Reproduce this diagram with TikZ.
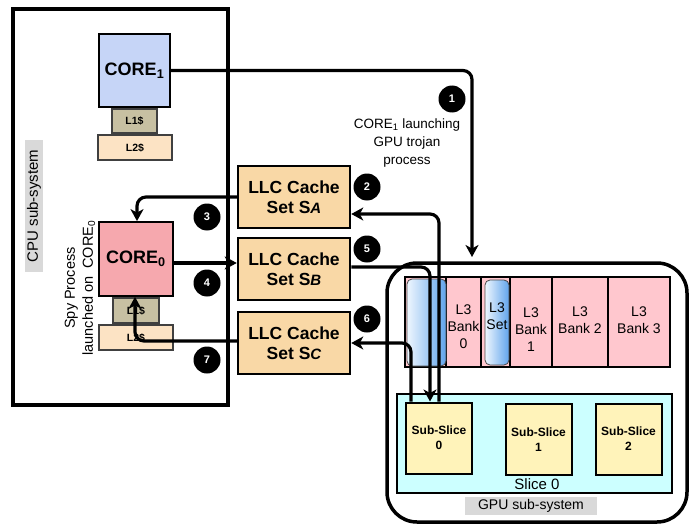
\documentclass[tikz,border=0pt]{standalone}
\usepackage{fontspec}
\setmainfont{Liberation Sans}
\usetikzlibrary{arrows.meta,calc}

\definecolor{coreblue}{RGB}{198,213,247}
\definecolor{corepink}{RGB}{246,168,174}
\definecolor{lonecol}{RGB}{199,192,162}
\definecolor{ltwocol}{RGB}{252,227,196}
\definecolor{llccol}{RGB}{249,216,166}
\definecolor{bankpink}{RGB}{255,199,206}
\definecolor{slicecyan}{RGB}{204,255,255}
\definecolor{subyellow}{RGB}{255,243,186}
\definecolor{labelgray}{RGB}{217,217,217}
\definecolor{setblueL}{RGB}{238,246,254}
\definecolor{setblueR}{RGB}{96,164,236}

\newcommand{\fsz}[2]{\fontsize{#1}{#2}\selectfont}

\begin{document}
\begin{tikzpicture}[x=1pt,y=-1pt,
  corebox/.style={draw, line width=1.8pt, inner sep=0pt, font=\fsz{18}{18}\bfseries},
  cachebox/.style={draw=black!75, line width=1.4pt, inner sep=0pt, font=\fsz{10.5}{10.5}\bfseries},
  llcbox/.style={draw, line width=2.5pt, fill=llccol, minimum width=112, minimum height=62,
    inner sep=0pt, align=center, font=\fsz{17.5}{20}\bfseries},
  sublabel/.style={fill=labelgray, inner sep=0pt},
  badge/.style={circle, fill=black, minimum size=27, inner sep=0pt, text=white,
    font=\fsz{11}{11}\bfseries},
  bankcell/.style={align=center, font=\fsz{14}{17}, inner sep=0pt},
  bluecell/.style={draw=black!70, line width=0.8pt, rounded corners=5,
    left color=setblueL, right color=setblueR},
  subslice/.style={draw, line width=2pt, fill=subyellow, minimum width=66, minimum height=71,
    inner sep=0pt, align=center, font=\fsz{12}{15}\bfseries},
  conn/.style={line width=3.2pt, rounded corners=9, line join=round,
    -{Stealth[length=12pt,width=13pt,inset=3.5pt]}}
]
\useasboundingbox (0,0) rectangle (691,527);

% ---------- CPU side ----------
\node[draw, line width=4pt, minimum width=215, minimum height=396, inner sep=0pt] (cpu) at (120.5,207) {};
\node[sublabel, rotate=90, minimum width=132, minimum height=18, font=\fsz{15}{15}] (cpulbl) at (34,206) {CPU sub-system};

\node[corebox, fill=coreblue, minimum width=71, minimum height=73] (core1) at (134.5,70.5) {CORE\textsubscript{1}};
\node[cachebox, fill=lonecol, minimum width=45, minimum height=24] (l1a) at (134.5,121) {L1\$};
\node[cachebox, fill=ltwocol, minimum width=74, minimum height=25] (l2a) at (135,147.5) {L2\$};

\node[corebox, fill=corepink, minimum width=74, minimum height=74] (core0) at (136,259) {CORE\textsubscript{0}};
\node[cachebox, fill=lonecol, minimum width=46, minimum height=25] (l1b) at (136,310.5) {L1\$};
\node[cachebox, fill=ltwocol, minimum width=74, minimum height=25] (l2b) at (136,337.5) {L2\$};

\node[rotate=90, align=center, font=\fsz{14.5}{18}, inner sep=0pt] (spy) at (80,288)
  {Spy Process\\launched on\hspace{4pt} CORE\textsubscript{0}};

% ---------- LLC sets ----------
\node[llcbox] (llca) at (294,197) {LLC Cache\\Set S{\itshape\fsz{15}{20}A}};
\node[llcbox] (llcb) at (294,269) {LLC Cache\\Set S{\itshape\fsz{15}{20}B}};
\node[llcbox] (llcc) at (294,343) {LLC Cache\\Set S{\itshape\fsz{15}{20}C}};

% ---------- GPU side ----------
\node[draw, line width=3.5pt, rounded corners=30, minimum width=300, minimum height=259, inner sep=0pt] (gpu) at (537,392.5) {};

% L3 strip
\node[draw, line width=2pt, fill=bankpink, minimum width=265, minimum height=90, inner sep=0pt] (l3) at (537.5,322) {};
\foreach \xx in {446,481,510,552,608}
  \draw[line width=1.8pt] (\xx,277) -- (\xx,367);
\filldraw[bluecell] (407,279) rectangle (446,366);
\filldraw[bluecell] (485,280) rectangle (509,365);
\node[bankcell] (bank0) at (463.5,327) {L3\\Bank\\0};
\node[bankcell] (l3set) at (497,316) {L3\\Set};
\node[bankcell] (bank1) at (531,330) {L3\\Bank\\1};
\node[bankcell] (bank2) at (580,320) {L3\\Bank 2};
\node[bankcell] (bank3) at (639,320) {L3\\Bank 3};

% Slice 0
\node[draw, line width=1.6pt, fill=slicecyan, minimum width=275, minimum height=99, inner sep=0pt] (slice) at (534.5,443.5) {};
\node[subslice] (ss0) at (439,438) {Sub-Slice\\0};
\node[subslice] (ss1) at (538.5,439.5) {Sub-Slice\\1};
\node[subslice] (ss2) at (628.5,439) {Sub-Slice\\2};
\node[font=\fsz{15}{15}, inner sep=0pt] (slicelbl) at (537,484) {Slice 0};
\node[sublabel, minimum width=132, minimum height=18, font=\fsz{14}{14}] (gpulbl) at (531,506) {GPU sub-system};

% ---------- Connectors ----------
\coordinate (gputop) at (472,257);
\draw[conn] (core1.east) -| (gputop);
\node[align=center, font=\fsz{13.5}{18}, inner sep=0pt] (launch) at (407,143)
  {CORE\textsubscript{1} launching\\GPU trojan\\process};

\draw[conn] (ss0.north) |- ($(llca.east)+(0,17)$);
\draw[conn] (llca.west) -| ($(core0.north)+(1,0)$);
\draw[conn] ($(core0.east)+(0,4)$) -- ($(llcb.west)+(0,-6)$);
\draw[conn] ($(llcb.east)+(0,-2)$) -| ($(ss0.north)+(-9,0)$);
\draw[conn] ($(ss0.north)+(-28,0)$) |- (llcc.east);
\draw[conn] ($(llcc.west)+(0,-2)$) -| ($(core0.south)+(-1,0)$);

% ---------- Step badges ----------
\node[badge] (b1) at (452,99) {1};
\node[badge] (b2) at (367,187) {2};
\node[badge] (b3) at (207,217) {3};
\node[badge] (b4) at (207,283) {4};
\node[badge] (b5) at (367,249) {5};
\node[badge] (b6) at (367,319) {6};
\node[badge] (b7) at (207,360) {7};
\end{tikzpicture}
\end{document}
